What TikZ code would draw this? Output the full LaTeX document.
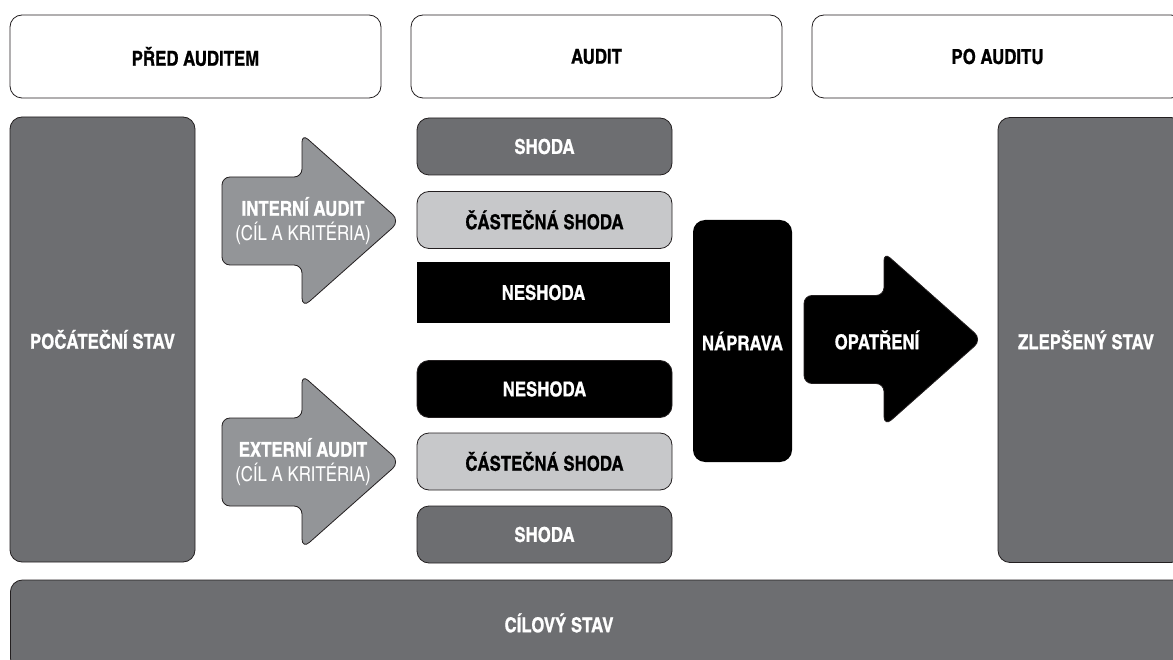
\documentclass[tikz,border=0pt]{standalone}
\usepackage{fontspec}
\setmainfont{texgyreheroscn}[Extension=.otf, UprightFont=*-regular, BoldFont=*-bold,
  BoldFeatures={FakeBold=0.8}]
\definecolor{darkgrey}{HTML}{6D6E71}
\definecolor{lightgrey}{HTML}{C7C8CA}
\definecolor{midgrey}{HTML}{939598}
\definecolor{outline}{HTML}{231F20}
\tikzset{
  txt/.style={align=center, font=\bfseries\fontsize{20.5}{25}\selectfont},
  head/.style={txt, draw=outline, line width=0.8pt, rounded corners=12pt, fill=white,
    minimum width=371, minimum height=83},
  state/.style={txt, draw=outline, line width=0.8pt, rounded corners=12pt, fill=darkgrey,
    text=white, minimum width=185, minimum height=445},
  result/.style={txt, draw=outline, line width=0.8pt, rounded corners=12pt,
    minimum width=255, minimum height=57},
  pics/bigarrow/.style={code={
    \draw[draw=outline, line width=0.8pt, rounded corners=8pt, fill=#1]
      (-80,-44) -- (0,-44) -- (0,-87) [rounded corners=10pt] -- (98,0) -- (0,87)
      [rounded corners=8pt] -- (0,44) -- (-80,44) -- cycle;}}
}
\begin{document}
\begin{tikzpicture}[x=1pt,y=-1pt]
\clip (0,0) rectangle (1173,660);
\fill[white] (0,0) rectangle (1173,660);
% faze
\node[head] (pred) at (195.5,56.5) {PŘED AUDITEM};
\node[head] (audit) at (596.5,56.5) {AUDIT};
\node[head] (po) at (997.5,56.5) {PO AUDITU};
% stavy
\node[state] (pocatek) at (102.5,339.5) {POČÁTEČNÍ STAV};
\node[state] (zlepseny) at (1090.5,340) {};
\node[txt, text=white] (zlepsenytext) at (1086,340) {ZLEPŠENÝ STAV};
\node[state, minimum width=1180, minimum height=90, anchor=west] (cil) at (10,625) {};
\node[txt, text=white] (ciltext) at (559,623) {CÍLOVÝ STAV};
% audity
\foreach \yy/\name/\lab in {221/interni/INTERNÍ AUDIT, 462/externi/EXTERNÍ AUDIT}{
  \pic at (302,\yy) {bigarrow=midgrey};
  \node[txt, text=white] (\name) at (303,\yy) {\lab\\\textmd{(CÍL A KRITÉRIA)}};
}
% vysledky
\node[result, fill=darkgrey, text=white] (shoda1) at (544.5,146.5) {SHODA};
\node[result, fill=lightgrey] (castecna1) at (544.5,220) {ČÁSTEČNÁ SHODA};
\node[result, fill=black, text=white, rounded corners=0pt, draw=none,
  minimum width=253, minimum height=61] (neshoda1) at (543.5,292.5) {NESHODA};
\node[result, fill=black, text=white] (neshoda2) at (544.5,389) {NESHODA};
\node[result, fill=lightgrey] (castecna2) at (544.5,461.5) {ČÁSTEČNÁ SHODA};
\node[result, fill=darkgrey, text=white] (shoda2) at (544.5,534.5) {SHODA};
% po auditu
\node[txt, fill=black, text=white, rounded corners=12pt,
  minimum width=99, minimum height=242] (naprava) at (742.5,341) {NÁPRAVA};
\pic at (884,339.5) {bigarrow=black};
\node[txt, text=white] (opatreni) at (877,340) {OPATŘENÍ};
\end{tikzpicture}
\end{document}
